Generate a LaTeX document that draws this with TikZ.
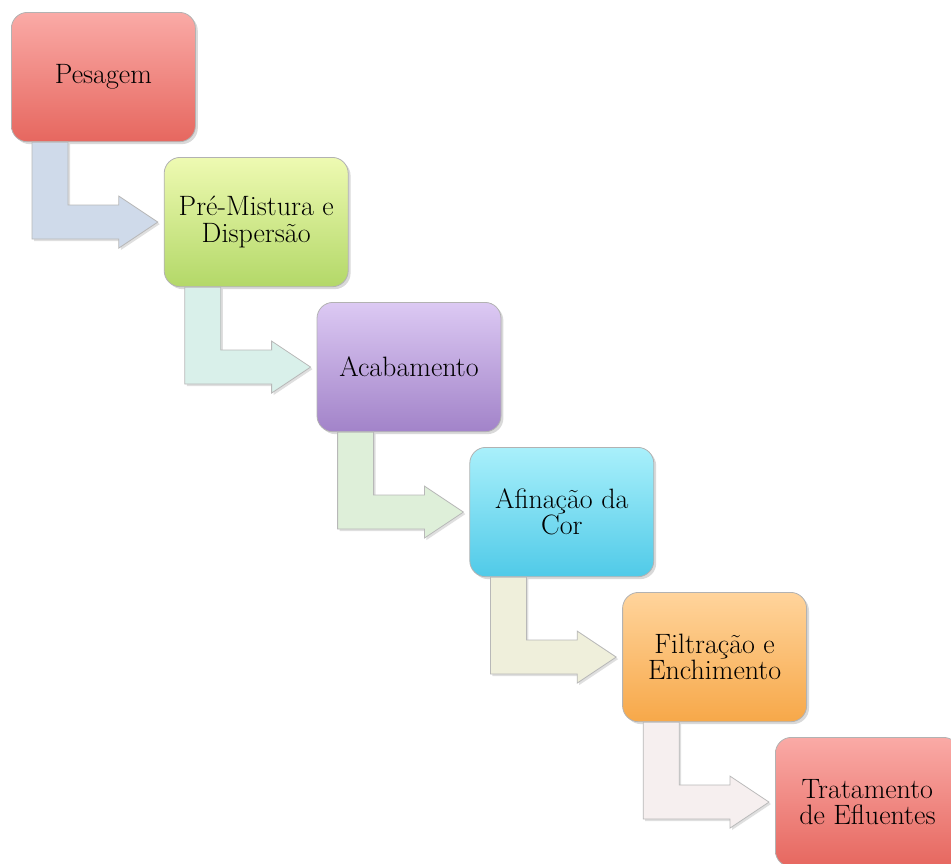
\documentclass[tikz,border=0pt]{standalone}
\usepackage{fontspec}
\usetikzlibrary{calc,shadows}

\definecolor{pesTop}{HTML}{FAAAA6}
\definecolor{pesBot}{HTML}{E6675F}
\definecolor{misTop}{HTML}{EEFAB2}
\definecolor{misBot}{HTML}{B3D868}
\definecolor{acaTop}{HTML}{DCC9F3}
\definecolor{acaBot}{HTML}{A283C9}
\definecolor{afiTop}{HTML}{A9F0FB}
\definecolor{afiBot}{HTML}{50CAE8}
\definecolor{filTop}{HTML}{FFD49C}
\definecolor{filBot}{HTML}{F7A849}
\definecolor{arrA}{HTML}{CFDAEA}
\definecolor{arrB}{HTML}{D9F0EA}
\definecolor{arrC}{HTML}{DEEFD9}
\definecolor{arrD}{HTML}{EFEFDB}
\definecolor{arrE}{HTML}{F6EFEF}

\tikzset{
  stage/.style={rounded corners=12pt, minimum width=138pt, minimum height=97pt,
    align=center, anchor=north west, font=\fontsize{21}{19.8}\selectfont,
    draw=black!30, line width=0.6pt,
    drop shadow={opacity=0.3, shadow xshift=1.8pt, shadow yshift=-1.8pt}},
  flow/.style={draw=black!28, line width=0.6pt,
    drop shadow={opacity=0.25, shadow xshift=1.5pt, shadow yshift=-1.5pt}}
}

\begin{document}
\begin{tikzpicture}[x=0.75pt,y=-0.75pt]
\useasboundingbox (0,0) rectangle (951,864);

% stages
\foreach \i/\name/\ctop/\cbot/\txt in {
  0/p1/pesTop/pesBot/{Pesagem},
  1/p2/misTop/misBot/{Pré-Mistura e\\Dispersão},
  2/p3/acaTop/acaBot/{Acabamento},
  3/p4/afiTop/afiBot/{Afinação da\\Cor},
  4/p5/filTop/filBot/{Filtração e\\Enchimento},
  5/p6/pesTop/pesBot/{Tratamento\\de Efluentes}}
{
  \node[stage, top color=\ctop, bottom color=\cbot] (\name) at (11+152.8*\i, 12+145*\i) {\txt};
}

% bent arrows
\foreach \a/\b/\c in {p1/p2/arrA, p2/p3/arrB, p3/p4/arrC, p4/p5/arrD, p5/p6/arrE}
{
  \path[flow, fill=\c] let \p1=(\a.south west), \p2=(\b.west) in
    (\x1+15.75pt,\y1) -- (\x1+42.75pt,\y1) -- (\x1+42.75pt,\y2+12.75pt)
    -- (\x2-33.75pt,\y2+12.75pt) -- (\x2-33.75pt,\y2+19.5pt) -- (\x2-4.5pt,\y2)
    -- (\x2-33.75pt,\y2-19.5pt) -- (\x2-33.75pt,\y2-12.75pt)
    -- (\x1+15.75pt,\y2-12.75pt) -- cycle;
}
\end{tikzpicture}
\end{document}
